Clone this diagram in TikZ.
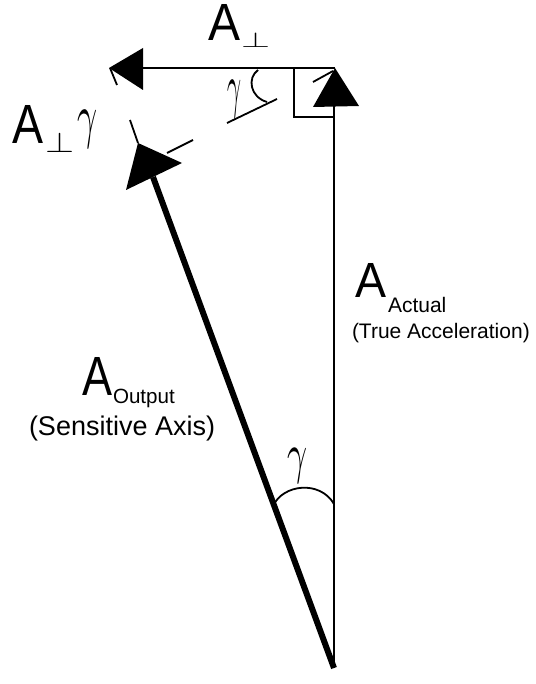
\documentclass[tikz,border=0pt]{standalone}
\usepackage{fontspec}
\usepackage{graphicx}
\setmainfont{Liberation Sans}
\newcommand{\fitto}[3]{\resizebox*{#1}{#2}{#3}}
\begin{document}
\begin{tikzpicture}[x=1pt,y=-1pt,
  txt/.style={inner sep=0pt, outer sep=0pt},
  thinvec/.style={line width=2.2pt},
  thickvec/.style={line width=6pt},
  barb/.style={line width=1.8pt},
  anglemark/.style={line width=1.8pt}]
\useasboundingbox (0,0) rectangle (535,684);
% points
\coordinate (O) at (334,668);
% vertical vector (true acceleration)
\coordinate (Vtip) at (335,68);
\coordinate (Vl) at (313,107);
\coordinate (Vr) at (359,106);
\coordinate (Vb) at (334,106);
\draw[thinvec] (O) -- (Vb);
\fill (Vtip) -- (Vl) -- (Vr) -- cycle;
\coordinate (Vb1) at (313,82);
\coordinate (Vb2) at (333,71);
\draw[barb] (Vb1) -- (Vb2);
% horizontal vector
\coordinate (Hs) at (335,68);
\coordinate (Hb) at (143,68);
\coordinate (Htip) at (109,68);
\coordinate (Ht) at (143,48);
\coordinate (Hbo) at (143,90);
\draw[thinvec] (Hs) -- (Hb);
\fill (Htip) -- (Ht) -- (Hbo) -- cycle;
\coordinate (Hb1) at (110,68);
\coordinate (Hb2) at (117,85);
\draw[barb] (Hb1) -- (Hb2);
% right angle box
\coordinate (R1) at (294,68);
\coordinate (R2) at (294,117);
\coordinate (R3) at (334,117);
\draw[anglemark] (R1) -- (R2) -- (R3);
% small angle marker at top
\coordinate (a1) at (258,70);
\coordinate (a2) at (267,102);
\draw[anglemark] (a1) .. controls (247,78) and (250,97) .. (a2);
\coordinate (l1) at (227,123);
\coordinate (l2) at (277,99);
\draw[anglemark] (l1) -- (l2);
% tilted vector (output)
\coordinate (Ttip) at (138,143);
\coordinate (Tr) at (182,163);
\coordinate (Tl) at (126,190);
\coordinate (Tb) at (153,177);
\draw[thickvec] (O) -- (Tb);
\fill (Ttip) -- (Tr) -- (Tl) -- cycle;
\coordinate (Tb1) at (130,120);
\coordinate (Tb2) at (138,143);
\coordinate (Tb3) at (167,153);
\coordinate (Tb4) at (193,140);
\draw[barb] (Tb1) -- (Tb2);
\draw[barb] (Tb3) -- (Tb4);
% bottom angle arc
\coordinate (b1) at (273,506);
\coordinate (b2) at (334,504);
\draw[anglemark] (b1) .. controls (283,484) and (320,480) .. (b2);
% labels
\node[txt, anchor=north west] (Atop) at (208,4) {\fitto{32pt}{36pt}{A}};
\node[txt, anchor=north west] (Ptop) at (241,33) {\fitto{29pt}{15pt}{$\perp$}};
\node[txt, anchor=north west] (Ag) at (12,105) {\fitto{31pt}{38pt}{A}};
\node[txt, anchor=north west] (Pg) at (45,132) {\fitto{29pt}{20pt}{$\perp$}};
\node[txt, anchor=north west] (g1) at (77,110) {\fitto{20pt}{38pt}{$\gamma$}};
\node[txt, anchor=north west] (g2) at (227,80) {\fitto{14pt}{38pt}{$\gamma$}};
\node[txt, anchor=north west] (g3) at (287,448) {\fitto{20pt}{35pt}{$\gamma$}};
\node[txt, anchor=north west] (Aact) at (355,263) {\fitto{31pt}{34pt}{A}};
\node[txt, anchor=base west, font=\fontsize{21}{21}\selectfont] (act) at (388,312) {Actual};
\node[txt, anchor=base west, font=\fontsize{21}{21}\selectfont] (tru) at (352,338) {(True Acceleration)};
\node[txt, anchor=north west] (Aout) at (82,357) {\fitto{30pt}{38pt}{A}};
\node[txt, anchor=base west, font=\fontsize{20.6}{21}\selectfont] (outp) at (113,403.5) {Output};
\node[txt, anchor=base west, font=\fontsize{27}{27}\selectfont] (sens) at (29,435) {(Sensitive Axis)};
\end{tikzpicture}
\end{document}
